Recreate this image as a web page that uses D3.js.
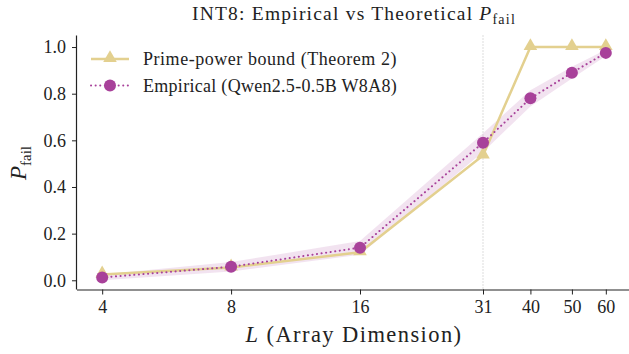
<!DOCTYPE html>
<html>
<head>
<meta charset="utf-8">
<script src="https://cdn.jsdelivr.net/npm/d3@7"></script>
<style>
  body { margin: 0; background: #fff; }
  text { font-family: "Liberation Serif", serif; fill: #222; }
</style>
</head>
<body>
<div id="chart"></div>
<script>
// data
var dims = [4, 8, 16, 31, 40, 50, 60];
var tickLabels = ["4", "8", "16", "31", "40", "50", "60"];
var boundVals = [0.025, 0.055, 0.12, 0.535, 1.0, 1.0, 1.0];
var empVals = [0.012, 0.058, 0.14, 0.59, 0.78, 0.89, 0.975];
var empLo = [0.0, 0.038, 0.11, 0.55, 0.745, 0.865, 0.962];
var empHi = [0.025, 0.078, 0.168, 0.63, 0.815, 0.915, 0.988];
var yTicks = [0.0, 0.2, 0.4, 0.6, 0.8, 1.0];
var markLine = 31;

var w = 629, h = 354;
var gold = "#e3d08f", purple = "#a8419a";
var serif = "Liberation Serif";

// stretch text to the width the reference uses (its font is wider)
function fit(sel, target) {
	var len = sel.node().getComputedTextLength();
	var n = sel.node().textContent.length;
	sel.attr("letter-spacing", (target - len) / n);
}

var svg = d3.select("#chart").append("svg")
	.attr("width", w).attr("height", h);

// scales (log x with 5% margins)
var l0 = Math.log(4), l1 = Math.log(60), pad = (l1 - l0) * 0.05;
var x = d3.scaleLog()
	.domain([Math.exp(l0 - pad), Math.exp(l1 + pad)])
	.range([77, 631]);
var y = d3.scaleLinear()
	.domain([-0.0395, 1.0495])
	.range([289.5, 35.5]);

// shaded band
var area = d3.area()
	.x(function(d, i) { return x(dims[i]); })
	.y0(function(d, i) { return y(empLo[i]); })
	.y1(function(d, i) { return y(empHi[i]); });
svg.append("path")
	.attr("d", area(dims))
	.attr("fill", purple)
	.attr("fill-opacity", 0.15);

// vertical reference line
svg.append("line")
	.attr("x1", x(markLine)).attr("x2", x(markLine))
	.attr("y1", y.range()[1]).attr("y2", y.range()[0])
	.attr("stroke", "#bbb")
	.attr("stroke-width", 1)
	.attr("stroke-dasharray", "1,2");

// bound line
var line = d3.line()
	.x(function(d) { return x(d[0]); })
	.y(function(d) { return y(d[1]); });
svg.append("path")
	.attr("d", line(d3.zip(dims, boundVals)))
	.attr("fill", "none")
	.attr("stroke", gold)
	.attr("stroke-width", 2.5);
var tri = d3.symbol().type(d3.symbolTriangle).size(80);
svg.selectAll(".tri")
	.data(d3.zip(dims, boundVals))
	.enter().append("path")
	.attr("class", "tri")
	.attr("d", tri)
	.attr("transform", function(d) { return "translate(" + x(d[0]) + "," + (y(d[1]) - 1) + ")"; })
	.attr("fill", gold);

// empirical line
svg.append("path")
	.attr("d", line(d3.zip(dims, empVals)))
	.attr("fill", "none")
	.attr("stroke", purple)
	.attr("stroke-width", 2)
	.attr("stroke-linecap", "round")
	.attr("stroke-dasharray", "0.1,4.5");
svg.selectAll(".dot")
	.data(d3.zip(dims, empVals))
	.enter().append("circle")
	.attr("class", "dot")
	.attr("cx", function(d) { return x(d[0]); })
	.attr("cy", function(d) { return y(d[1]); })
	.attr("r", 6)
	.attr("fill", purple);

// axes
var xAxis = d3.axisBottom(x)
	.tickValues(dims)
	.tickFormat(function(d, i) { return tickLabels[i]; })
	.tickSize(5).tickPadding(6);
var gx = svg.append("g")
	.attr("transform", "translate(0," + y.range()[0] + ")")
	.call(xAxis);
var yAxis = d3.axisLeft(y)
	.tickValues(yTicks)
	.tickFormat(d3.format(".1f"))
	.tickSize(5).tickPadding(6);
var gy = svg.append("g")
	.attr("transform", "translate(" + x.range()[0] + ",0)")
	.call(yAxis);
[gx, gy].forEach(function(g) {
	g.attr("font-family", serif);
	g.select(".domain").attr("stroke", "#222").attr("stroke-width", 1.2);
	g.selectAll(".tick line").attr("stroke", "#222").attr("stroke-width", 1);
	g.selectAll(".tick text")
		.attr("font-family", serif)
		.attr("font-size", "18px")
		.attr("fill", "#222");
});
gx.select(".domain").attr("d", "M" + x.range()[0] + ",0.5H" + x.range()[1]);
gy.select(".domain").attr("d", "M-0.5," + y.range()[0] + "V" + y.range()[1]);

// title
var title = svg.append("text")
	.attr("x", 354).attr("y", 20)
	.attr("text-anchor", "middle")
	.attr("font-family", serif)
	.attr("font-size", "19.5px");
title.append("tspan").text("INT8: Empirical vs Theoretical ");
title.append("tspan").attr("font-style", "italic").text("P");
title.append("tspan").attr("font-size", "14px").attr("dy", 4).text("fail");
fit(title, 324);

// axis labels
var xl = svg.append("text")
	.attr("x", 354).attr("y", 342)
	.attr("text-anchor", "middle")
	.attr("font-family", serif)
	.attr("font-size", "22.5px");
xl.append("tspan").attr("font-style", "italic").text("L");
xl.append("tspan").text(" (Array Dimension)");
fit(xl, 217);

var yl = svg.append("text")
	.attr("transform", "translate(26,163) rotate(-90)")
	.attr("text-anchor", "middle")
	.attr("font-family", serif)
	.attr("font-size", "23px");
yl.append("tspan").attr("font-style", "italic").text("P");
yl.append("tspan").attr("font-size", "15px").attr("dy", 5).text("fail");

// legend
var legend = [
	{label: "Prime-power bound (Theorem 2)", color: gold, kind: "tri"},
	{label: "Empirical (Qwen2.5-0.5B W8A8)", color: purple, kind: "dot"}
];
var lg = svg.selectAll(".lg")
	.data(legend)
	.enter().append("g")
	.attr("class", "lg")
	.attr("transform", function(d, i) { return "translate(91," + (59 + i * 26.5) + ")"; });
lg.append("line")
	.attr("x1", 0).attr("x2", 38)
	.attr("stroke", function(d) { return d.color; })
	.attr("stroke-width", function(d) { return d.kind === "tri" ? 2.5 : 2; })
	.attr("stroke-linecap", function(d) { return d.kind === "tri" ? "butt" : "round"; })
	.attr("stroke-dasharray", function(d) { return d.kind === "tri" ? null : "0.1,4.5"; });
lg.each(function(d) {
	var g = d3.select(this);
	if (d.kind === "tri") {
		g.append("path").attr("d", tri).attr("transform", "translate(19,-1)").attr("fill", d.color);
	} else {
		g.append("circle").attr("cx", 19).attr("r", 6).attr("fill", d.color);
	}
});
lg.append("text")
	.attr("x", 52).attr("y", 6)
	.attr("font-family", serif)
	.attr("font-size", "18px")
	.text(function(d) { return d.label; })
	.each(function() { fit(d3.select(this), 254); });
</script>
</body>
</html>
